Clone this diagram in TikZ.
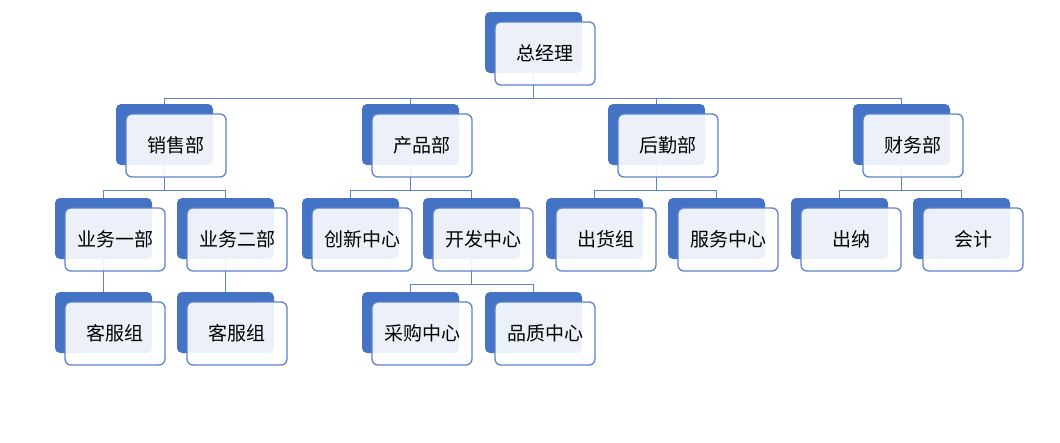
\documentclass[tikz,border=0pt]{standalone}
\usepackage{fontspec}
\newfontfamily\cjk{Noto Sans CJK SC}
\usetikzlibrary{backgrounds}
\definecolor{bblue}{HTML}{4472C4}
\definecolor{lblue}{HTML}{5B82CB}
\tikzset{
  backbox/.style={draw=none, fill=bblue, rounded corners=5pt, minimum width=97pt, minimum height=61pt, inner sep=0pt},
  frontbox/.style={draw=lblue, line width=1.3pt, fill=white, fill opacity=0.9, text opacity=1, rounded corners=6pt, minimum width=100pt, minimum height=63pt, inner sep=0pt, font=\cjk\fontsize{19}{21}\selectfont, text=black},
  conn/.style={draw=lblue, line width=1.4pt},
}
\newcommand\orgnode[4]{%
  \node[backbox] (#1) at (#2+48.5,#3+30.5) {};
  \node[frontbox] (#1f) at (#2+60,#3+41.5) {#4};
}
\begin{document}
\begin{tikzpicture}[x=1pt,y=-1pt]
\useasboundingbox (0,0) rectangle (1060,442);
\orgnode{zjl}{485}{12}{总经理}
\orgnode{xs}{116}{104}{销售部}
\orgnode{cp}{362}{104}{产品部}
\orgnode{hq}{608}{104}{后勤部}
\orgnode{cw}{853}{104}{财务部}
\orgnode{yw1}{55}{198}{业务一部}
\orgnode{yw2}{177}{198}{业务二部}
\orgnode{cx}{302}{198}{创新中心}
\orgnode{kf}{423}{198}{开发中心}
\orgnode{ch}{546}{198}{出货组}
\orgnode{fw}{668}{198}{服务中心}
\orgnode{cn}{791}{198}{出纳}
\orgnode{kj}{913}{198}{会计}
\orgnode{kfz1}{55}{292}{客服组}
\orgnode{kfz2}{177}{292}{客服组}
\orgnode{cg}{362}{292}{采购中心}
\orgnode{pz}{485}{292}{品质中心}
\begin{pgfonlayer}{background}
  \foreach \p/\c in {zjl/xs, zjl/cp, zjl/hq, zjl/cw,
                     xs/yw1, xs/yw2, cp/cx, cp/kf, hq/ch, hq/fw, cw/cn, cw/kj,
                     yw1/kfz1, yw2/kfz2, kf/cg, kf/pz}
    \draw[conn] (\p.south) -- ++(0,25) -| (\c.north);
\end{pgfonlayer}
\end{tikzpicture}
\end{document}
